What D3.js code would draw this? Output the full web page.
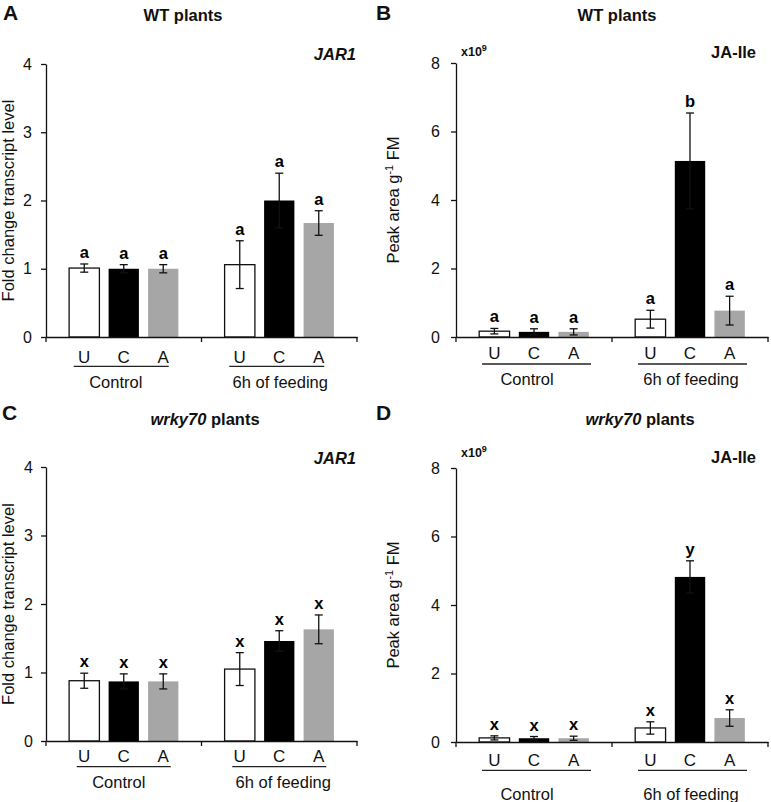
<!DOCTYPE html>
<html><head><meta charset="utf-8">
<script src="https://cdn.jsdelivr.net/npm/d3@7"></script>
<style>
body{margin:0;background:#fff;}
svg{display:block;font-family:"Liberation Sans",Arial,sans-serif;}
</style></head><body>
<svg id="chart" width="771" height="802"></svg>
<script>
// ---- data ----
const groups = ["Control", "6h of feeding"];
const treatments = ["U", "C", "A"];
const jar1Ticks = [0, 1, 2, 3, 4];
const jaIleTicks = [0, 2, 4, 6, 8];

// A: JAR1, WT plants
const jar1WT = [1.01, 1.00, 1.00, 1.06, 2.00, 1.67];
const jar1WTErr = [0.06, 0.06, 0.06, 0.35, 0.40, 0.18];
const jar1WTLetters = ["a", "a", "a", "a", "a", "a"];
// B: JA-Ile, WT plants (x10^9)
const jaIleWT = [0.17, 0.15, 0.15, 0.52, 5.14, 0.77];
const jaIleWTErr = [0.08, 0.09, 0.09, 0.26, 1.40, 0.42];
const jaIleWTLetters = ["a", "a", "a", "a", "b", "a"];
// C: JAR1, wrky70 plants
const jar1Wrky = [0.88, 0.87, 0.87, 1.05, 1.46, 1.63];
const jar1WrkyErr = [0.11, 0.11, 0.11, 0.24, 0.15, 0.21];
const jar1WrkyLetters = ["x", "x", "x", "x", "x", "x"];
// D: JA-Ile, wrky70 plants (x10^9)
const jaIleWrky = [0.12, 0.11, 0.11, 0.41, 4.82, 0.70];
const jaIleWrkyErr = [0.06, 0.05, 0.06, 0.18, 0.47, 0.24];
const jaIleWrkyLetters = ["x", "x", "x", "x", "y", "x"];

const fills = ["#ffffff", "#000000", "#a6a6a6"];
const FS = 16.5;

// ---- layout ----
const panels = [
  {letter: "A", values: jar1WT, errs: jar1WTErr, letters: jar1WTLetters, ticks: jar1Ticks,
   x0: 46, x1: 357, yTop: 64, yBot: 337, tp: 9, ylx: 13.5, ylab: "fold",
   title: [["WT", false], [" plants", false]], tx: 183, ty: 21,
   gene: "JAR1", geneItalic: true, gx: 356, gy: 60, lx: 3, ly: 20,
   catDy: 26, ulDy: 29.4, ul: [-50, 45], glDy: 51, glDx: [-8, 1]},
  {letter: "B", values: jaIleWT, errs: jaIleWTErr, letters: jaIleWTLetters, ticks: jaIleTicks,
   x0: 456, x1: 768, yTop: 63, yBot: 337, tp: 11, ylx: 399, ylab: "peak",
   title: [["WT", false], [" plants", false]], tx: 617, ty: 21,
   gene: "JA-Ile", geneItalic: false, gx: 756, gy: 58, lx: 376, ly: 20, x10: [461, 56],
   catDy: 22.3, ulDy: 27, ul: [-52, 57], glDy: 48, glDx: [-7, 1]},
  {letter: "C", values: jar1Wrky, errs: jar1WrkyErr, letters: jar1WrkyLetters, ticks: jar1Ticks,
   x0: 46, x1: 357, yTop: 467, yBot: 741, tp: 8, ylx: 13.5, ylab: "fold",
   title: [["wrky70", true], [" plants", false]], tx: 205, ty: 425,
   gene: "JAR1", geneItalic: true, gx: 356, gy: 464, lx: 2, ly: 420,
   catDy: 21.3, ulDy: 25.7, ul: [-47, 47], glDy: 47.3, glDx: [-5, 4]},
  {letter: "D", values: jaIleWrky, errs: jaIleWrkyErr, letters: jaIleWrkyLetters, ticks: jaIleTicks,
   x0: 456, x1: 768, yTop: 468, yBot: 742, tp: 11, ylx: 399, ylab: "peak",
   title: [["wrky70", true], [" plants", false]], tx: 640, ty: 425,
   gene: "JA-Ile", geneItalic: false, gx: 756, gy: 463, lx: 376, ly: 420, x10: [461, 457],
   catDy: 24, ulDy: 28.3, ul: [-52, 57], glDy: 57.6, glDx: [-7, 1]}
];

const svg = d3.select("#chart");

function drawPanel(p) {
  const g = svg.append("g");
  const x = d3.scaleBand().domain(groups).range([p.x0, p.x1]);
  const xi = d3.scaleBand().domain(treatments).range([0, x.bandwidth()])
    .paddingInner(0.233).paddingOuter(0.585);
  const y = d3.scaleLinear().domain([0, d3.max(p.ticks)]).range([p.yBot, p.yTop]);
  const rows = p.values.map((v, i) => ({
    g: groups[Math.floor(i / 3)], t: treatments[i % 3], v, e: p.errs[i], l: p.letters[i]
  }));
  const cx = d => x(d.g) + xi(d.t) + xi.bandwidth() / 2;

  // bars
  g.selectAll("rect.bar").data(rows).join("rect").attr("class", "bar")
    .attr("x", d => x(d.g) + xi(d.t)).attr("width", xi.bandwidth())
    .attr("y", d => y(d.v)).attr("height", d => y(0) - y(d.v))
    .attr("fill", d => fills[treatments.indexOf(d.t)])
    .attr("stroke", d => d.t === "U" ? "#111" : "none").attr("stroke-width", 1.3);

  // error bars
  const eb = g.selectAll("g.err").data(rows).join("g").attr("class", "err")
    .attr("stroke", "#111").attr("stroke-width", 1.3);
  eb.append("line").attr("x1", cx).attr("x2", cx)
    .attr("y1", d => y(d.v + d.e)).attr("y2", d => y(Math.max(0, d.v - d.e)));
  eb.append("line").attr("x1", d => cx(d) - 4).attr("x2", d => cx(d) + 4)
    .attr("y1", d => y(d.v + d.e)).attr("y2", d => y(d.v + d.e));
  eb.append("line").attr("x1", d => cx(d) - 4).attr("x2", d => cx(d) + 4)
    .attr("y1", d => y(Math.max(0, d.v - d.e))).attr("y2", d => y(Math.max(0, d.v - d.e)));

  // significance letters
  g.selectAll("text.sig").data(rows).join("text").attr("class", "sig")
    .attr("x", cx).attr("y", d => y(d.v + d.e) - 6)
    .attr("text-anchor", "middle").attr("font-weight", "bold").attr("font-size", FS)
    .text(d => d.l);

  // y axis
  const ya = g.append("g").attr("transform", `translate(${p.x0},0)`)
    .call(d3.axisLeft(y).tickValues(p.ticks).tickSize(5).tickSizeOuter(0)
      .tickPadding(p.tp).tickFormat(d3.format("d")));
  ya.attr("font-family", null).attr("font-size", 16);
  ya.selectAll("path,line").attr("stroke", "#111").attr("stroke-width", 1.3);
  ya.selectAll("text").attr("fill", "#111");

  // x axis
  const xa = g.append("g").attr("transform", `translate(0,${p.yBot})`)
    .call(d3.axisBottom(x).tickSize(0).tickSizeOuter(0).tickFormat(""));
  xa.select("path").attr("stroke", "#111").attr("stroke-width", 1.3);
  const bounds = groups.map(k => x(k)).concat([x.range()[1]]);
  g.selectAll("line.bt").data(bounds).join("line").attr("class", "bt")
    .attr("x1", d => d).attr("x2", d => d).attr("y1", p.yBot).attr("y2", p.yBot + 5)
    .attr("stroke", "#111").attr("stroke-width", 1.3);

  // category labels
  g.selectAll("text.cat").data(rows).join("text").attr("class", "cat")
    .attr("x", cx).attr("y", p.yBot + p.catDy).attr("text-anchor", "middle")
    .attr("font-size", 17).attr("fill", "#111").text(d => d.t);
  // underlines and group labels
  groups.forEach((k, gi) => {
    const gc = x(k) + x.bandwidth() / 2;
    g.append("line").attr("x1", gc + p.ul[0]).attr("x2", gc + p.ul[1])
      .attr("y1", p.yBot + p.ulDy).attr("y2", p.yBot + p.ulDy)
      .attr("stroke", "#222").attr("stroke-width", 1.3);
    g.append("text").attr("x", gc + p.glDx[gi]).attr("y", p.yBot + p.glDy)
      .attr("text-anchor", "middle").attr("font-size", FS).attr("fill", "#111").text(k);
  });

  // y axis label
  const yl = g.append("text")
    .attr("transform", `translate(${p.ylx},${(p.yTop + p.yBot) / 2}) rotate(-90)`)
    .attr("text-anchor", "middle").attr("font-size", FS).attr("fill", "#111");
  if (p.ylab === "fold") {
    yl.text("Fold change transcript level");
  } else {
    yl.append("tspan").text("Peak area g");
    yl.append("tspan").attr("font-size", 11).attr("dy", -6).text("-1");
    yl.append("tspan").attr("dy", 6).text(" FM");
  }

  // title
  const t = g.append("text").attr("x", p.tx).attr("y", p.ty).attr("text-anchor", "middle")
    .attr("font-weight", "bold").attr("font-size", FS).attr("fill", "#111");
  p.title.forEach(([s, it]) => t.append("tspan").attr("font-style", it ? "italic" : null).text(s));

  // gene/compound label
  g.append("text").attr("x", p.gx).attr("y", p.gy).attr("text-anchor", "end")
    .attr("font-weight", "bold").attr("font-style", p.geneItalic ? "italic" : null)
    .attr("font-size", FS).attr("fill", "#111").text(p.gene);

  // panel letter
  g.append("text").attr("x", p.lx).attr("y", p.ly).attr("font-weight", "bold")
    .attr("font-size", 21).attr("fill", "#111").text(p.letter);

  // x10^9
  if (p.x10) {
    const m = g.append("text").attr("x", p.x10[0]).attr("y", p.x10[1])
      .attr("font-weight", "bold").attr("font-size", 12.5).attr("fill", "#111");
    m.append("tspan").text("x10");
    m.append("tspan").attr("font-size", 9).attr("dy", -5).text("9");
  }
}

panels.forEach(drawPanel);
</script>
</body></html>
